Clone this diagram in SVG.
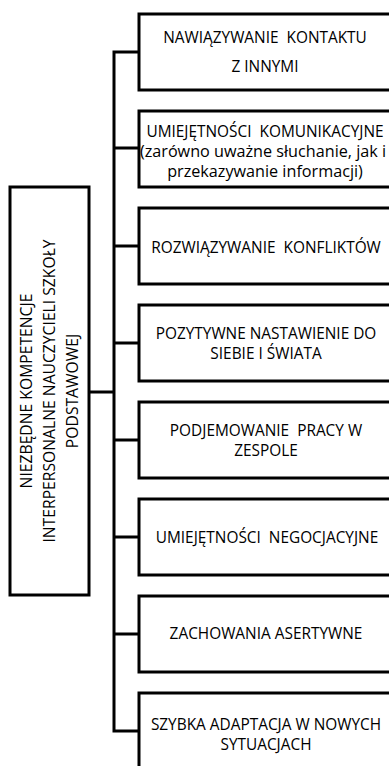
<svg xmlns="http://www.w3.org/2000/svg" width="389" height="766" viewBox="0 0 389 766">
<style>
.box{fill:#fff;stroke:#000;stroke-width:3}
.t{font-family:"Open Sans","Noto Sans",sans-serif;font-size:15.4px;fill:#000;text-anchor:middle}
.l{font-size:16.2px}
.m{font-family:"Open Sans","Noto Sans",sans-serif;font-size:15.7px;fill:#000;text-anchor:middle}
.c{fill:none;stroke:#000;stroke-width:3}
</style>
<rect width="389" height="766" fill="#fff"/>
<g id="connectors">
<path class="c" d="M139 52 H114 V731 H139"/>
<path class="c" d="M114 148 H139 M114 246 H139 M114 343 H139 M114 440 H139 M114 537 H139 M114 634 H139 M89 392 H114"/>
</g>
<g id="root">
<rect class="box" x="10" y="187" width="79" height="408"/>
<text class="m" transform="translate(32,391) rotate(-90)">NIEZBĘDNE KOMPETENCJE</text>
<text class="m" transform="translate(55,391) rotate(-90)">INTERPERSONALNE NAUCZYCIELI SZKOŁY</text>
<text class="m" transform="translate(78,391) rotate(-90)">PODSTAWOWEJ</text>
</g>
<g id="n1">
<rect class="box" x="139" y="14" width="254" height="76"/>
<text class="t" x="265" y="42.5" xml:space="preserve">NAWIĄZYWANIE  KONTAKTU</text>
<text class="t" x="265" y="71.5">Z INNYMI</text>
</g>
<g id="n2">
<rect class="box" x="139" y="111" width="254" height="76"/>
<text class="t" x="265" y="137" xml:space="preserve">UMIEJĘTNOŚCI  KOMUNIKACYJNE</text>
<text class="t l" x="263" y="157">(zarówno uważne słuchanie, jak i</text>
<text class="t l" x="265" y="177">przekazywanie informacji)</text>
</g>
<g id="n3">
<rect class="box" x="139" y="208" width="254" height="76"/>
<text class="t" x="266" y="252.5" xml:space="preserve">ROZWIĄZYWANIE  KONFLIKTÓW</text>
</g>
<g id="n4">
<rect class="box" x="139" y="305" width="254" height="76"/>
<text class="t" x="266" y="338.5">POZYTYWNE NASTAWIENIE DO</text>
<text class="t" x="266" y="358.5">SIEBIE I ŚWIATA</text>
</g>
<g id="n5">
<rect class="box" x="139" y="402" width="254" height="76"/>
<text class="t" x="266" y="436" xml:space="preserve">PODJEMOWANIE  PRACY W</text>
<text class="t" x="266" y="456">ZESPOLE</text>
</g>
<g id="n6">
<rect class="box" x="139" y="499" width="254" height="76"/>
<text class="t" x="267" y="542.5" xml:space="preserve">UMIEJĘTNOŚCI  NEGOCJACYJNE</text>
</g>
<g id="n7">
<rect class="box" x="139" y="596" width="254" height="76"/>
<text class="t" x="266" y="638.5">ZACHOWANIA ASERTYWNE</text>
</g>
<g id="n8">
<rect class="box" x="139" y="693" width="254" height="76"/>
<text class="t" x="266" y="729.5">SZYBKA ADAPTACJA W NOWYCH</text>
<text class="t" x="266" y="749.5">SYTUACJACH</text>
</g>
</svg>
